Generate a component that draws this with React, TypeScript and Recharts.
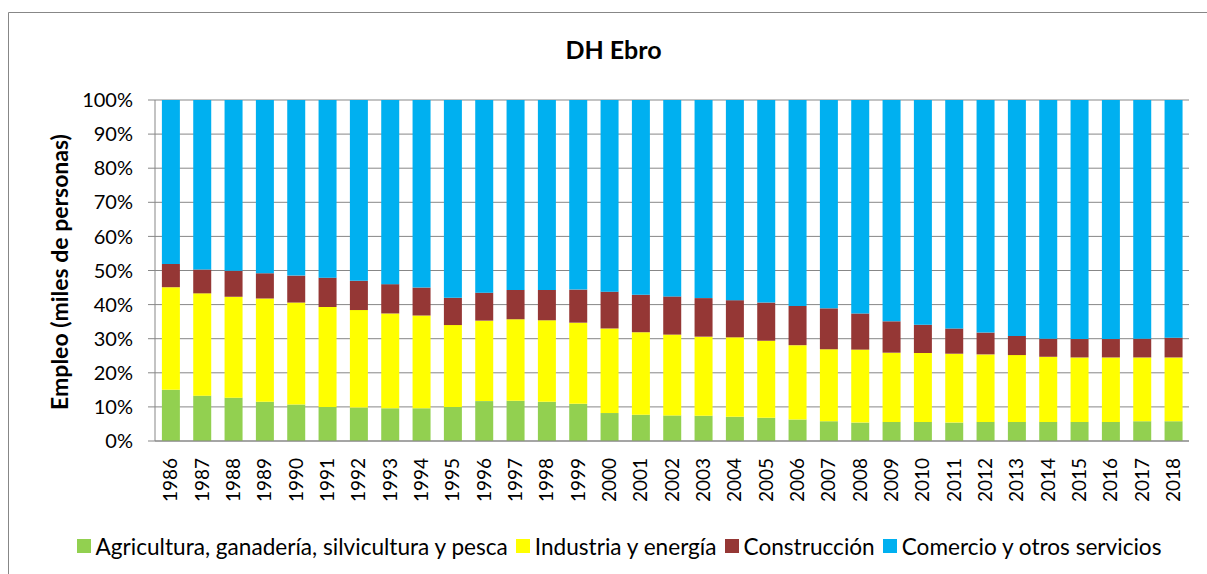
import React from 'react';
import { BarChart, Bar, XAxis, YAxis, CartesianGrid } from 'recharts';

const years = [
  '1986', '1987', '1988', '1989', '1990', '1991', '1992', '1993', '1994', '1995', '1996',
  '1997', '1998', '1999', '2000', '2001', '2002', '2003', '2004', '2005', '2006', '2007',
  '2008', '2009', '2010', '2011', '2012', '2013', '2014', '2015', '2016', '2017', '2018',
];

const agricultura = [
  15.0, 13.3, 12.7, 11.5, 10.7, 10.0, 9.8, 9.6, 9.6, 10.0, 11.7,
  11.8, 11.5, 10.9, 8.2, 7.7, 7.5, 7.4, 7.1, 6.8, 6.3, 5.8,
  5.4, 5.6, 5.6, 5.4, 5.6, 5.6, 5.6, 5.6, 5.6, 5.8, 5.8,
];
const industria = [
  30.1, 30.0, 29.6, 30.3, 29.9, 29.3, 28.6, 27.8, 27.2, 24.0, 23.6,
  23.9, 23.9, 23.8, 24.8, 24.2, 23.7, 23.2, 23.3, 22.6, 21.8, 21.1,
  21.4, 20.3, 20.2, 20.2, 19.8, 19.6, 19.1, 18.9, 18.9, 18.7, 18.7,
];
const construccion = [
  6.8, 7.0, 7.6, 7.4, 7.9, 8.6, 8.6, 8.6, 8.2, 8.0, 8.2,
  8.6, 8.9, 9.7, 10.8, 11.0, 11.2, 11.3, 10.9, 11.2, 11.5, 12.0,
  10.6, 9.2, 8.3, 7.4, 6.4, 5.6, 5.3, 5.4, 5.4, 5.5, 5.8,
];
const comercio = [
  48.1, 49.7, 50.1, 50.8, 51.5, 52.1, 53.0, 54.0, 55.0, 58.0, 56.5,
  55.7, 55.7, 55.6, 56.2, 57.1, 57.6, 58.1, 58.7, 59.4, 60.4, 61.1,
  62.6, 64.9, 65.9, 67.0, 68.2, 69.2, 70.0, 70.1, 70.1, 70.0, 69.7,
];

const seriesKeys = ['agricultura', 'industria', 'construccion', 'comercio'];
const seriesNames = [
  'Agricultura, ganadería, silvicultura y pesca',
  'Industria y energía',
  'Construcción',
  'Comercio y otros servicios',
];
const seriesColors = ['#92D050', '#FFFF00', '#953735', '#00B0F0'];

const yTicks = [0, 10, 20, 30, 40, 50, 60, 70, 80, 90, 100];
const boundaryTicks = years.map((_, i) => i).concat([years.length]);

const data = years.map((year, i) => ({
  year,
  agricultura: agricultura[i],
  industria: industria[i],
  construccion: construccion[i],
  comercio: comercio[i],
}));

const FONT = 'Lato, sans-serif';
const GRID = '#878787';

if (typeof document !== 'undefined') {
  document.body.style.margin = '0';
  document.body.style.overflow = 'hidden';
}

const YearTick = (props: any) => {
  const { x, y, payload } = props;
  return (
    <g transform={`translate(${x},${y})`}>
      <text
        x={0}
        y={0}
        dy="0.35em"
        transform="rotate(-90)"
        textAnchor="end"
        fontSize={19}
        fontFamily={FONT}
        fill="#000"
      >
        {payload.value}
      </text>
    </g>
  );
};

export default function App() {
  return (
    <div
      style={{
        position: 'relative',
        width: 1207,
        height: 574,
        overflow: 'hidden',
        background: '#fff',
      }}
    >
      <div style={{ position: 'absolute', left: 8, top: 12 }}>
        <BarChart
          width={1199}
          height={560}
          data={data}
          margin={{ top: 88, right: 18, left: 67, bottom: 0 }}
          barCategoryGap="22%"
        >
          <CartesianGrid horizontal vertical={false} stroke={GRID} strokeWidth={1} />
          <XAxis
            xAxisId="bounds"
            type="number"
            domain={[0, years.length]}
            ticks={boundaryTicks}
            tick={false}
            axisLine={false}
            tickLine={{ stroke: GRID }}
            tickSize={6}
            height={0}
            allowDecimals={false}
          />
          <XAxis
            dataKey="year"
            interval={0}
            axisLine={{ stroke: GRID }}
            tickLine={false}
            tickSize={0}
            tickMargin={17}
            height={131}
            tick={<YearTick />}
          />
          <YAxis
            width={80}
            domain={[0, 100]}
            ticks={yTicks}
            interval={0}
            tickFormatter={(v: number) => `${v}%`}
            axisLine={{ stroke: GRID }}
            tickLine={{ stroke: GRID }}
            tickSize={7}
            tickMargin={15}
            tick={{ fontSize: 20, fontFamily: FONT, fill: '#000' }}
          />
          {seriesKeys.map((k, i) => (
            <Bar
              key={k}
              dataKey={k}
              name={seriesNames[i]}
              stackId="a"
              fill={seriesColors[i]}
              isAnimationActive={false}
            />
          ))}
        </BarChart>
      </div>
      <svg
        width={1207}
        height={574}
        style={{ position: 'absolute', left: 0, top: 0, pointerEvents: 'none' }}
      >
        <line x1={8.5} y1={12.5} x2={1207} y2={12.5} stroke={GRID} strokeWidth={1} />
        <line x1={8.5} y1={12.5} x2={8.5} y2={574} stroke={GRID} strokeWidth={1} />
        <text
          x={613.5}
          y={59}
          textAnchor="middle"
          fontSize={25}
          fontWeight="bold"
          fontFamily={FONT}
          fill="#000"
        >
          DH Ebro
        </text>
        <g transform="translate(60,272)">
          <text
            x={0}
            y={0}
            dy="0.35em"
            transform="rotate(-90)"
            textAnchor="middle"
            fontSize={23}
            fontWeight="bold"
            fontFamily={FONT}
            fill="#000"
          >
            Empleo (miles de personas)
          </text>
        </g>
      </svg>
      <div
        style={{
          position: 'absolute',
          left: 9,
          top: 534,
          width: 1220,
          height: 24,
          boxSizing: 'border-box',
          paddingLeft: 0,
          display: 'flex',
          justifyContent: 'center',
          alignItems: 'center',
          fontFamily: FONT,
          fontSize: 22.6,
          color: '#000',
          whiteSpace: 'nowrap',
        }}
      >
        {seriesNames.map((n, i) => (
          <div key={n} style={{ display: 'flex', alignItems: 'center', marginRight: i < seriesNames.length - 1 ? 8 : 0 }}>
            <span
              style={{
                display: 'inline-block',
                width: 14,
                height: 14,
                background: seriesColors[i],
                marginRight: 5,
              }}
            />
            <span>{n}</span>
          </div>
        ))}
      </div>
    </div>
  );
}
